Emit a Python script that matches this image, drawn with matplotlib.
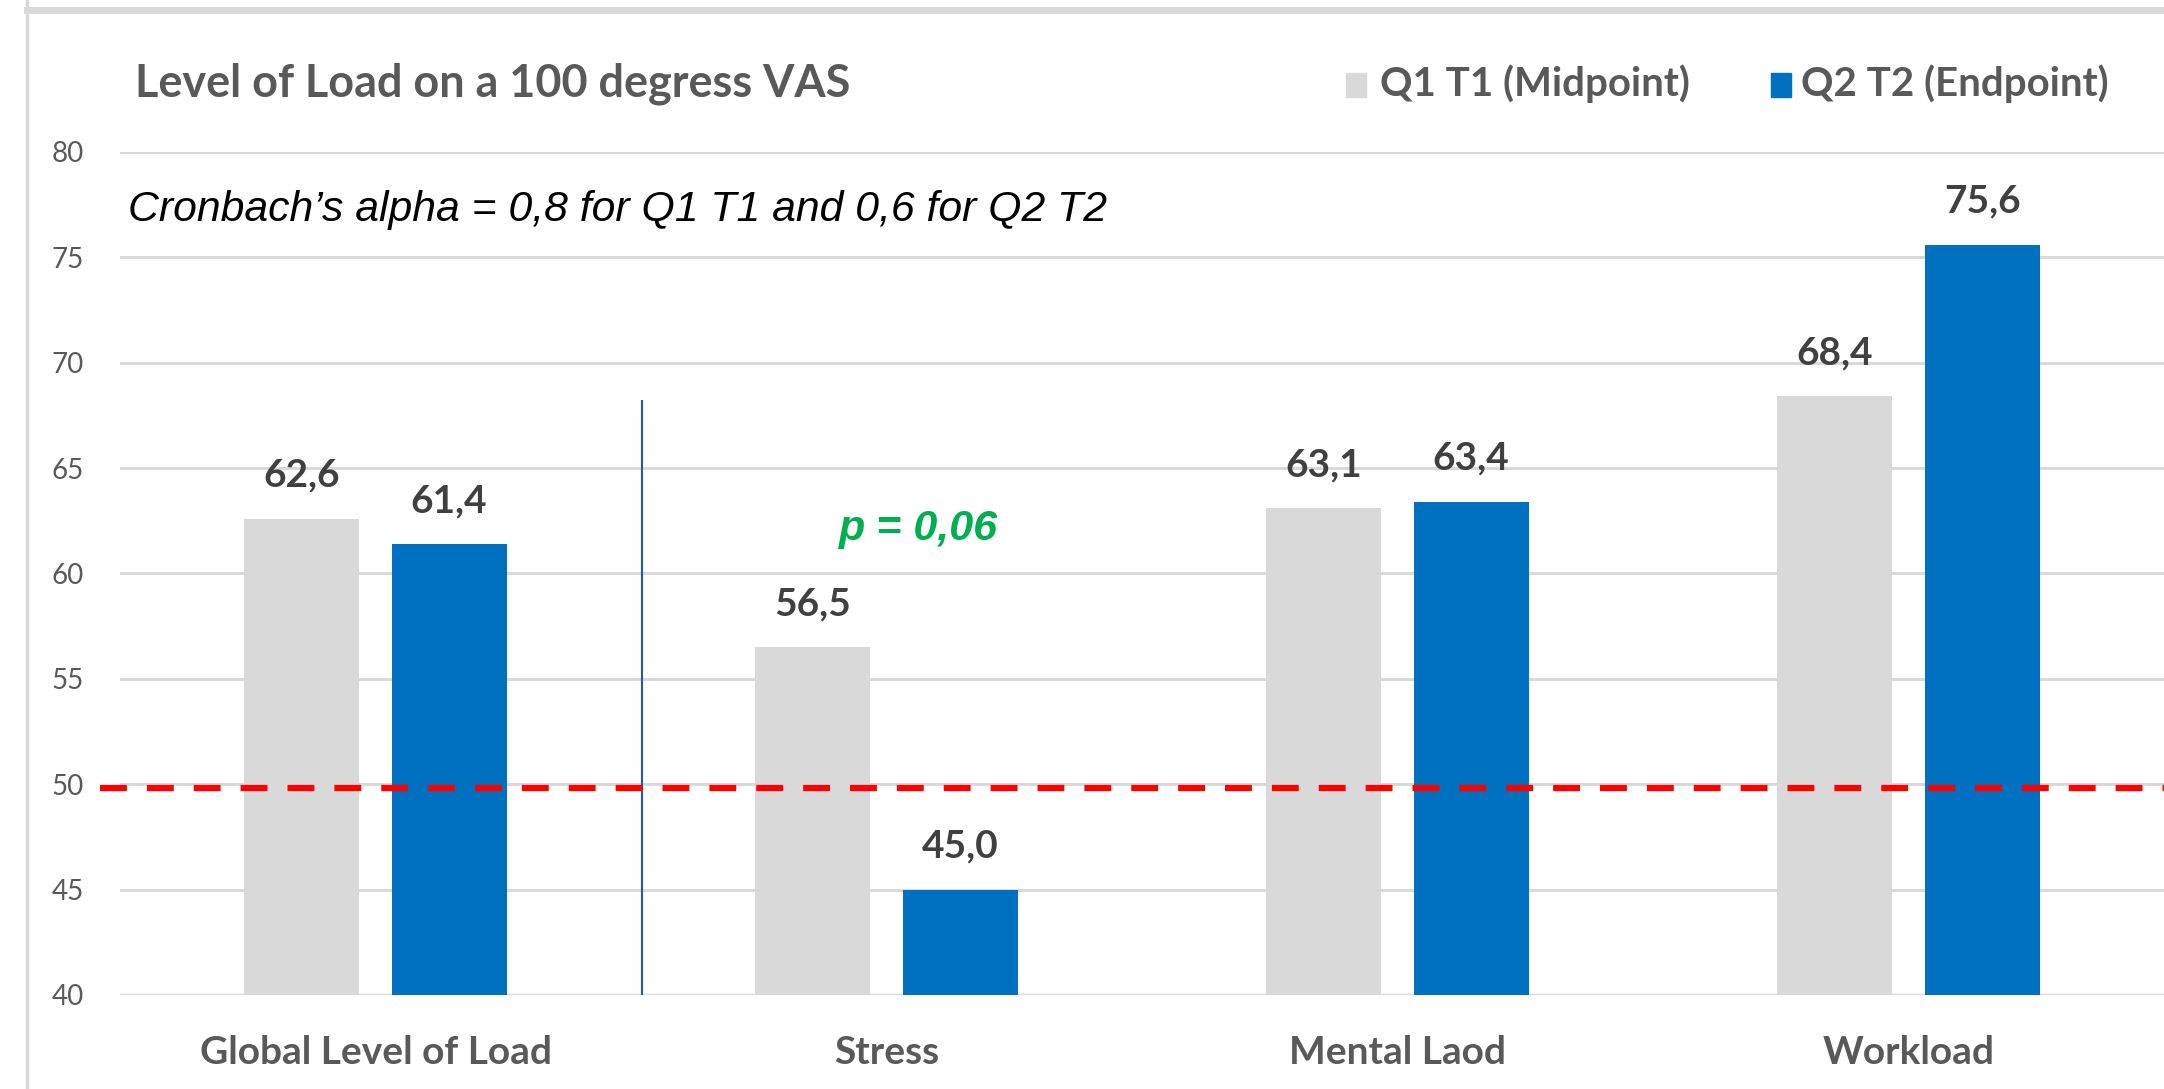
import matplotlib
matplotlib.use("Agg")
import matplotlib.pyplot as plt
from matplotlib.patches import Rectangle
from matplotlib.lines import Line2D
import numpy as np

# data
categories = ["Global Level of Load", "Stress", "Mental Laod", "Workload"]
q1_t1 = [62.6, 56.5, 63.1, 68.4]
q2_t2 = [61.4, 45.0, 63.4, 75.6]
series_names = ["Q1 T1 (Midpoint)", "Q2 T2 (Endpoint)"]
y_ticks = [40, 45, 50, 55, 60, 65, 70, 75, 80]
threshold = 49.8
p_label = "p = 0,06"
alpha_note = "Cronbach\u2019s alpha = 0,8 for Q1 T1 and 0,6 for Q2 T2"

GRAY = "#D9D9D9"
BLUE = "#0070C0"
TEXT = "#595959"
W, H = 2164, 1089


def fx(px):
    return px / W


def fy(py):
    return 1 - py / H


fig = plt.figure(figsize=(W / 100, H / 100), dpi=100)
ax = fig.add_axes([fx(120), fy(995), 1 - fx(120), fy(152) - fy(995)])

x = np.arange(len(categories))
off, bw = 0.144, 0.225
b1 = ax.bar(x - off, q1_t1, bw, color=GRAY, zorder=2)
b2 = ax.bar(x + off, q2_t2, bw, color=BLUE, zorder=2)

# value labels above each bar
for bars, vals in ((b1, q1_t1), (b2, q2_t2)):
    for rect, v in zip(bars, vals):
        ax.annotate(f"{v:.1f}".replace(".", ","),
                    (rect.get_x() + rect.get_width() / 2, v),
                    xytext=(0, 23), textcoords="offset points",
                    ha="center", va="baseline", fontsize=28,
                    fontweight="bold", color="#404040", family="Lato")

ax.set_xlim(-0.5, 3.5)
ax.set_ylim(40, 80)
ax.set_yticks(y_ticks)
ax.set_xticks(x)
ax.set_xticklabels(categories, fontsize=28, fontweight="bold", color=TEXT,
                   family="Lato")
ax.tick_params(axis="y", length=0, pad=26, labelsize=20, labelcolor=TEXT)
ax.tick_params(axis="x", length=0, pad=29)
for lbl in ax.get_yticklabels():
    lbl.set_family("Lato")
ax.yaxis.grid(True, color=GRAY, lw=2.2, zorder=0)
for s in ax.spines.values():
    s.set_visible(False)
ax.axhline(40, color=GRAY, lw=2.5, zorder=1)

# separator between the global score and the subscales
ax.plot([0.522, 0.522], [40, 68.2], color="#1F5AA6", lw=1.5, zorder=3)

# 50 mark
ax.plot([-0.54, 3.5], [threshold, threshold], color="#FF0000", lw=4.5,
        dashes=(4.3, 3.2), zorder=4, clip_on=False)

ax.text(-0.484, 77.25, alpha_note, fontsize=30.8, style="italic",
        family="Liberation Sans", color="black", va="center", ha="left")
ax.text(0.906, 62.1, p_label, fontsize=31, style="italic", fontweight="bold",
        family="Liberation Sans", color="#00B050", va="center", ha="left")

# title and legend
fig.text(fx(135), fy(84), "Level of Load on a 100 degress VAS", fontsize=32.4,
         fontweight="bold", color=TEXT, family="Lato", va="center", ha="left")
for sq_x, txt_x, col, name in ((1346, 1380, GRAY, series_names[0]),
                               (1771, 1801, BLUE, series_names[1])):
    fig.add_artist(Rectangle((fx(sq_x), fy(97)), fx(20), fy(73) - fy(97),
                             transform=fig.transFigure, color=col))
    fig.text(fx(txt_x), fy(84), name, fontsize=29, fontweight="bold",
             color=TEXT, family="Lato", va="center", ha="left")

# outer frame
fig.add_artist(Line2D([fx(27), 1], [fy(10), fy(10)], color=GRAY, lw=5,
                      transform=fig.transFigure))
fig.add_artist(Line2D([fx(27), fx(27)], [0, 1], color=GRAY, lw=2.5,
                      transform=fig.transFigure))

fig.savefig("out.png", dpi=100)
